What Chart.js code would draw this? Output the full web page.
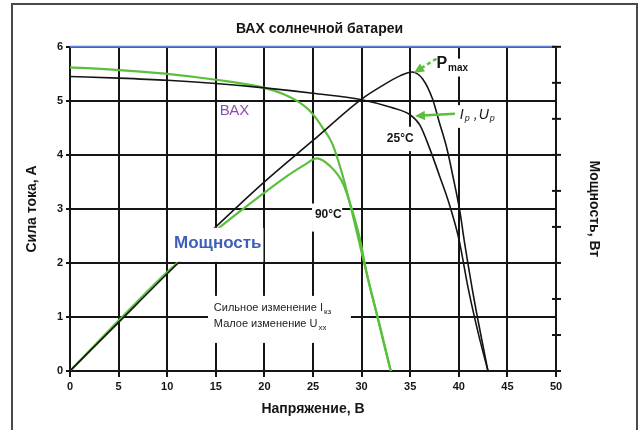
<!DOCTYPE html>
<html lang="ru">
<head>
<meta charset="utf-8">
<title>ВАХ солнечной батареи</title>
<script src="https://cdn.jsdelivr.net/npm/chart.js@4.4.1/dist/chart.umd.min.js"></script>
<style>
  html, body { margin: 0; padding: 0; background: #fff; }
  #wrap { width: 639px; height: 430px; }
</style>
</head>
<body>
<div id="wrap"><canvas id="ivChart" width="639" height="430"></canvas></div>
<script>
// 25°C curves (black)
const voltage25 = [0, 5, 10, 15, 20, 25, 30, 33, 35, 36, 37, 38, 39, 40, 41, 42, 43];
const current25 = [5.45, 5.42, 5.38, 5.32, 5.24, 5.14, 5.02, 4.88, 4.74, 4.55, 4.12, 3.62, 3.1, 2.45, 1.5, 0.7, 0];
const powerVolt25 = [0, 5, 10, 15, 20, 25, 30, 32, 34, 35.2, 36.3, 37.3, 38, 38.8, 39.4, 40.1, 40.6, 41.6, 43];
const power25 = [0, 27, 54, 80, 105, 128, 151, 158, 164, 166, 162, 151, 138, 123, 108, 89, 71, 39, 0];

// 90°C curves (green)
const voltage90 = [0, 5, 10, 15, 20, 22, 24, 25, 26, 27, 28, 29, 30, 31, 32, 33];
const current90 = [5.62, 5.57, 5.5, 5.39, 5.24, 5.12, 4.92, 4.75, 4.5, 4.2, 3.65, 2.95, 2.2, 1.45, 0.75, 0];
const powerVolt90 = [0, 5, 10, 15, 20, 22, 24, 25.4, 26.7, 28.1, 29.1, 29.8, 30.5, 31.5, 32.3, 33];
const power90 = [0, 28, 55, 78, 99, 107, 114, 118, 114, 104, 88, 74, 55, 33, 15, 0];

// axis ticks
const voltTicks = [0, 5, 10, 15, 20, 25, 30, 35, 40, 45, 50];
const currentTicks = [0, 1, 2, 3, 4, 5, 6];
const powerTicks = [0, 20, 40, 60, 80, 100, 120, 140, 160, 180];

const BLACK = '#151515';
const GREEN = '#5cbf3c';
const NARROW = "'Liberation Sans Narrow', 'Liberation Sans', Arial, sans-serif";
const SANS = "'Liberation Sans', Arial, sans-serif";

Chart.defaults.font.family = NARROW;
Chart.defaults.color = BLACK;

function points(xs, ys) {
  return xs.map((v, i) => ({ x: v, y: ys[i] }));
}

function fixTicks(values) {
  return scale => { scale.ticks = values.map(v => ({ value: v })); };
}

function arrow(c, x1, y1, x2, y2, dashed) {
  const ang = Math.atan2(y2 - y1, x2 - x1);
  c.save();
  c.strokeStyle = GREEN;
  c.fillStyle = GREEN;
  c.lineWidth = 2.5;
  if (dashed) c.setLineDash([4, 3]);
  c.beginPath();
  c.moveTo(x1, y1);
  c.lineTo(x2 - 7 * Math.cos(ang), y2 - 7 * Math.sin(ang));
  c.stroke();
  c.setLineDash([]);
  c.beginPath();
  c.moveTo(x2, y2);
  c.lineTo(x2 - 11 * Math.cos(ang - 0.45), y2 - 11 * Math.sin(ang - 0.45));
  c.lineTo(x2 - 11 * Math.cos(ang + 0.45), y2 - 11 * Math.sin(ang + 0.45));
  c.closePath();
  c.fill();
  c.restore();
}

// text with a subscript part, returns end x
function subText(c, main, sub, x, y, font, subFont) {
  c.font = font;
  c.fillText(main, x, y);
  let w = c.measureText(main).width;
  c.font = subFont;
  c.fillText(sub, x + w + 1, y + 4);
  return x + w + 1 + c.measureText(sub).width;
}

const decorations = {
  id: 'decorations',
  beforeDraw(chart) {
    const c = chart.ctx;
    c.save();
    c.fillStyle = '#fff';
    c.fillRect(0, 0, chart.width, chart.height);
    c.strokeStyle = '#4a4a4a';
    c.lineWidth = 2;
    c.strokeRect(12, 4, 625, 450);
    c.restore();
  },
  afterDatasetsDraw(chart) {
    const { ctx: c, scales: { x, y, y2 } } = chart;
    const px = v => x.getPixelForValue(v);
    const py = a => y.getPixelForValue(a);

    c.save();
    // blue top line
    c.strokeStyle = '#5b80d6';
    c.lineWidth = 2;
    c.beginPath();
    c.moveTo(x.left, py(6));
    c.lineTo(x.right, py(6));
    c.stroke();

    // power axis ticks cross the right edge
    c.strokeStyle = BLACK;
    y2.ticks.forEach(t => {
      const yy = y2.getPixelForValue(t.value);
      c.beginPath();
      c.moveTo(x.right - 4, yy);
      c.lineTo(x.right + 5, yy);
      c.stroke();
    });

    // white backgrounds under labels
    c.fillStyle = '#fff';
    const box = (v0, v1, a0, a1) => c.fillRect(px(v0), py(a0), px(v1) - px(v0), py(a1) - py(a0));
    box(10.3, 19.9, 2.65, 2.02);   // Мощность
    box(14.2, 28.9, 1.39, 0.52);   // note
    box(24.9, 28.0, 3.1, 2.58);    // 90°C
    box(32.4, 35.8, 4.52, 4.07);   // 25°C
    box(39.3, 44.2, 4.92, 4.5);    // Ip, Up
    box(37.5, 40.4, 5.78, 5.45);   // Pmax

    c.textBaseline = 'middle';
    c.textAlign = 'left';

    c.fillStyle = '#8a4fb3';
    c.font = '15px ' + SANS;
    c.fillText('ВАХ', px(15.4), py(4.82));

    c.fillStyle = '#3d5fb8';
    c.font = 'bold 17px ' + SANS;
    c.fillText('Мощность', px(10.7), py(2.37));

    c.fillStyle = BLACK;
    c.font = 'bold 12px ' + NARROW;
    c.fillText('25°C', px(32.6), py(4.3));
    c.fillText('90°C', px(25.2), py(2.9));

    c.fillStyle = '#222';
    subText(c, 'Сильное изменение I', 'кз', px(14.8), py(1.17), '11px ' + NARROW, '8px ' + NARROW);
    subText(c, 'Малое изменение U', 'хх', px(14.8), py(0.87), '11px ' + NARROW, '8px ' + NARROW);

    c.fillStyle = BLACK;
    subText(c, 'P', 'max', px(37.7), py(5.68), 'bold 16px ' + NARROW, 'bold 10px ' + NARROW);
    const e = subText(c, 'I', 'р', px(40.1), py(4.74), 'italic 14px ' + SANS, 'italic 9px ' + SANS);
    c.font = 'italic 14px ' + SANS;
    c.fillText(',', e + 4, py(4.74));
    subText(c, 'U', 'р', e + 9, py(4.74), 'italic 14px ' + SANS, 'italic 9px ' + SANS);

    arrow(c, px(39.6), py(4.76), px(35.5), py(4.72), false);
    arrow(c, px(37.7), py(5.78), px(35.4), py(5.52), true);
    c.restore();
  }
};

new Chart(document.getElementById('ivChart'), {
  type: 'line',
  data: {
    datasets: [
      {
        label: 'ВАХ 25°C',
        data: points(voltage25, current25),
        borderColor: BLACK,
        borderWidth: 1.6,
        yAxisID: 'y',
        order: 0
      },
      {
        label: 'Мощность 25°C',
        data: points(powerVolt25, power25),
        borderColor: BLACK,
        borderWidth: 1.6,
        yAxisID: 'y2',
        order: 0
      },
      {
        label: 'ВАХ 90°C',
        data: points(voltage90, current90),
        borderColor: GREEN,
        borderWidth: 2.2,
        yAxisID: 'y',
        order: 1
      },
      {
        label: 'Мощность 90°C',
        data: points(powerVolt90, power90),
        borderColor: GREEN,
        borderWidth: 2.2,
        yAxisID: 'y2',
        order: 1
      }
    ]
  },
  options: {
    responsive: false,
    animation: false,
    cubicInterpolationMode: 'monotone',
    elements: { point: { radius: 0 } },
    layout: { padding: 0 },
    plugins: {
      legend: { display: false },
      tooltip: { enabled: false },
      title: {
        display: true,
        text: 'ВАХ солнечной батареи',
        color: BLACK,
        font: { size: 14, weight: 'bold', family: SANS },
        padding: { top: 21, bottom: 9 }
      }
    },
    scales: {
      x: {
        type: 'linear',
        min: 0,
        max: 50,
        afterBuildTicks: fixTicks(voltTicks),
        afterFit: s => { s.height = 59; },
        grid: { color: BLACK, lineWidth: 2, tickLength: 6 },
        border: { color: BLACK, width: 2 },
        ticks: { padding: 3, font: { size: 11, weight: 'bold' }, maxRotation: 0 },
        title: {
          display: true,
          text: 'Напряжение, В',
          font: { size: 14, weight: 'bold', family: SANS },
          padding: { top: 0, bottom: 12 }
        }
      },
      y: {
        position: 'left',
        min: 0,
        max: 6,
        afterBuildTicks: fixTicks(currentTicks),
        afterFit: s => { s.width = 70; },
        grid: { color: BLACK, lineWidth: 2, tickLength: 4 },
        border: { color: BLACK, width: 2 },
        ticks: { padding: 3, font: { size: 11, weight: 'bold' } },
        title: {
          display: true,
          text: 'Сила тока, А',
          font: { size: 14, weight: 'bold', family: SANS },
          padding: { top: 24, bottom: 0 }
        }
      },
      y2: {
        position: 'right',
        min: 0,
        max: 180,
        afterBuildTicks: fixTicks(powerTicks),
        afterFit: s => { s.width = 83; },
        grid: { drawOnChartArea: false, drawTicks: false },
        border: { color: BLACK, width: 2 },
        ticks: { display: false },
        title: {
          display: true,
          text: 'Мощность, Вт',
          font: { size: 14, weight: 'bold', family: SANS },
          padding: { top: 37, bottom: 0 }
        }
      }
    }
  },
  plugins: [decorations]
});
</script>
</body>
</html>
